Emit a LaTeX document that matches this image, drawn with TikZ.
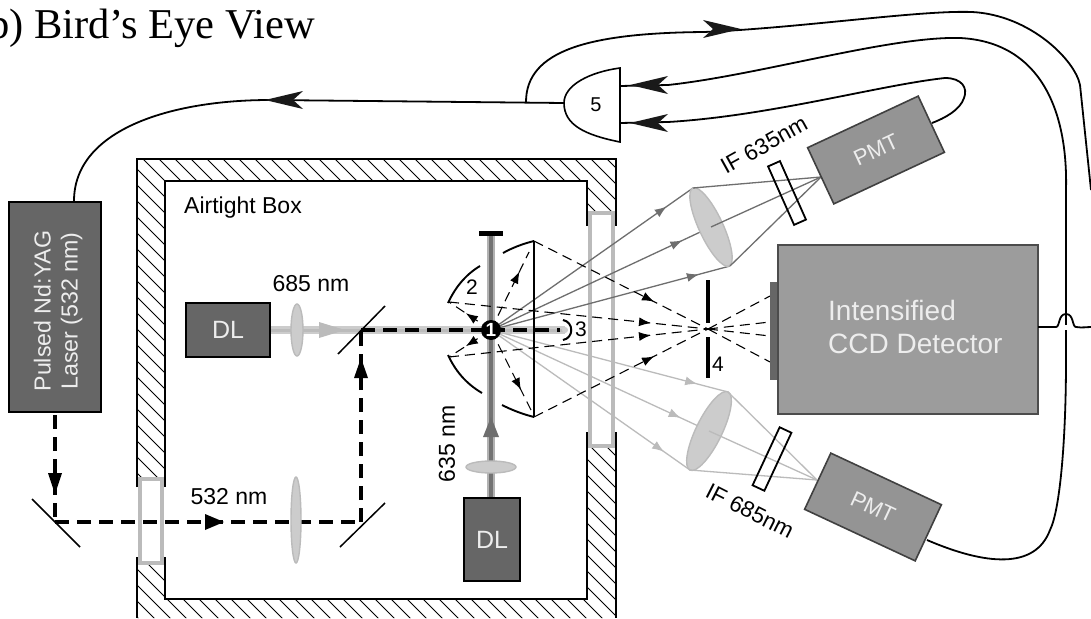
\documentclass[tikz,border=0pt]{standalone}
\usepackage{fontspec}
\setmainfont{Liberation Sans}
\newfontfamily\titlefont{Liberation Serif}
\usetikzlibrary{shapes.geometric,arrows.meta,decorations.markings}
\definecolor{darkbox}{HTML}{666666}
\definecolor{midbox}{HTML}{9C9C9C}
\definecolor{lensgray}{HTML}{CCCCCC}
\definecolor{rayup}{HTML}{6E6E6E}
\definecolor{raylow}{HTML}{BBBBBB}
\definecolor{whitish}{HTML}{EDEDED}
\tikzset{
  x=1pt,y=-1pt,
  lbl/.style={inner sep=0,font=\fontsize{#1}{#1}\selectfont},
  lbl/.default=20,
  darkunit/.style={draw=black,line width=1.6,fill=darkbox,text=whitish,inner sep=0,align=center},
  pmtbox/.style={draw=black!75,line width=1.6,fill=midbox!95!black,text=whitish,inner sep=0,minimum width=122,minimum height=62,font=\fontsize{22}{22}\selectfont},
  ifbox/.style={draw=black,line width=1.8,inner sep=0,minimum width=13,minimum height=64},
  lensnode/.style={ellipse,draw=raylow,line width=1.4,fill=lensgray,inner sep=0},
  wire/.style={draw=black,line width=1.8},
  thickdash/.style={draw=black,line width=4,dash pattern=on 14 off 8},
  thindash/.style={draw=black,line width=1.1,dash pattern=on 10 off 6},
  mirrorline/.style={draw=black,line width=1.5},
  reflector/.style={draw=black,line width=1.9},
  wallline/.style={draw=black,line width=1.5},
  glass/.style={draw=raylow,line width=3.2,fill=white},
  midtip/.style n args={2}{postaction={decorate},decoration={markings,mark=at position #1 with {\arrow{Latex[length=12,width=9,color=#2]}}}},
  wirehead/.pic={\fill[black!90] (0,0)--(-38,-9)--(-28,0)--(-38,9)--cycle;},
}
\begin{document}
\begin{tikzpicture}
\useasboundingbox (0,0) rectangle (1091,618);
\clip (0,0) rectangle (1091,618);
\fill[white] (0,0) rectangle (1091,618);

% ---------- title
\node[anchor=base east,inner sep=0,font=\titlefont\fontsize{42.5}{42.5}\selectfont] (title) at (315,39) {b) Bird’s Eye View};

% ---------- hatched wall
\begin{scope}[even odd rule]
  \clip (137,159) rectangle (616,618) (165,181) rectangle (587,599);
  \foreach \c in {-640,-624,...,640} \draw[line width=1] (\c,0) -- ({\c+700},700);
\end{scope}
\fill[white] (136,487) rectangle (166,557);
\fill[white] (586,226) rectangle (617,432);
\draw[wallline] (137,487) -- (137,159) -- (616,159) -- (616,226);
\draw[wallline] (616,432) -- (616,618);
\draw[wallline] (137,557) -- (137,618);
\draw[wallline] (165,487) -- (165,181) -- (587,181) -- (587,226);
\draw[wallline] (165,557) -- (165,599) -- (587,599) -- (587,432);
\node[glass,minimum width=22,minimum height=84,inner sep=0] (winL) at (151,521) {};
\node[glass,minimum width=23,minimum height=233,inner sep=0] (winR) at (601.5,329.5) {};

% ---------- anchor coordinates
\coordinate (src) at (491,330);
\coordinate (focus) at (708,329);
\coordinate (up1) at (693,188);
\coordinate (up2) at (711,227);
\coordinate (up3) at (730,266);
\coordinate (lo1) at (728,392);
\coordinate (lo2) at (709,431);
\coordinate (lo3) at (690,470);
\coordinate (fp1) at (821,177);
\coordinate (fp2) at (817,480);
\coordinate (rtop) at (534,241);
\coordinate (rbot) at (534,417);
\coordinate (ltop) at (449,302);
\coordinate (lbot) at (449,357);

% ---------- optical beams
\draw[draw=lensgray,line width=8] (270,330) -- (565,330);
\draw[draw=raylow,line width=3] (270,330) -- (565,330);
\draw[draw=black!30,line width=8] (491,233) -- (491,498);
\draw[draw=black!55,line width=3.5] (491,233) -- (491,498);
\draw[draw=black,line width=5] (479,233) -- (503,233);
\fill[raylow] (319,322) -- (345,330) -- (319,338) -- cycle;
\fill[rayup] (491,417) -- (499,437) -- (483,437) -- cycle;

% ---------- thick laser path
\coordinate (laserout) at (55,415);
\coordinate (m1) at (55,522);
\coordinate (m2) at (361,522);
\coordinate (m3) at (361,330);
\draw[thickdash] (laserout) -- (m1);
\draw[thickdash] (m1) -- (m2);
\draw[thickdash] (m2) -- (m3);
\draw[thickdash] (m3) -- (src);
\draw[thickdash] (src) -- (560,330);
\fill[black] (55,494) -- (62,473) -- (48,473) -- cycle;
\fill[black] (224,522) -- (205,514) -- (205,530) -- cycle;
\fill[black] (361,358) -- (368,378) -- (354,378) -- cycle;
\draw[mirrorline] (32,499) -- (80,547);
\draw[mirrorline] (340,547) -- (385,503);
\draw[mirrorline] (338,354) -- (385,306);

% ---------- fluorescence rays
\foreach \t in {up1,up2,up3}
  \draw[draw=rayup,line width=1.3,midtip={0.87}{rayup}] (src) -- (\t);
\foreach \t in {lo1,lo2,lo3}
  \draw[draw=raylow,line width=1.3,midtip={0.87}{raylow}] (src) -- (\t);

% ---------- reflectors and scattered light
\draw[mirrorline,line width=1.3] (rtop) -- (rbot);
\draw[reflector] (rtop) .. controls (522,244) and (512,248) .. (503,253);
\draw[reflector] (rbot) .. controls (522,414) and (512,410) .. (502,405);
\draw[reflector] (480,266) .. controls (465,275) and (455,288) .. (448,303);
\draw[reflector] (448,355) .. controls (455,370) and (465,383) .. (482,393);
\coordinate (in1) at (529,252);
\coordinate (in2) at (531,410);
\draw[thindash,midtip={0.75}{black}] (src) -- (in1);
\draw[thindash,midtip={0.75}{black}] (src) -- (in2);
\draw[thindash,midtip={0.6}{black}] (src) -- (ltop);
\draw[thindash,midtip={0.6}{black}] (src) -- (lbot);
\draw[thindash,midtip={0.69}{black}] (rtop) -- (focus);
\draw[thindash,midtip={0.69}{black}] (rbot) -- (focus);
\draw[thindash,midtip={0.78}{black}] (ltop) -- (focus);
\draw[thindash,midtip={0.78}{black}] (lbot) -- (focus);
\coordinate (c1) at (770,296);
\coordinate (c2) at (770,322);
\coordinate (c3) at (770,336);
\coordinate (c4) at (770,362);
\foreach \t in {c1,c2,c3,c4} \draw[thindash] (focus) -- (\t);
\draw[reflector,line width=2] (563,320) .. controls (574,322) and (574,338) .. (563,340);
\fill[raylow!70!white] (565,330) circle (3);

% ---------- slit 4
\draw[draw=black,line width=4] (708,280) -- (708,323);
\draw[draw=black,line width=4] (708,337) -- (708,378);

% ---------- sample
\node[circle,fill=black,minimum size=20,inner sep=0,text=white,font=\bfseries\fontsize{19}{19}\selectfont] (sample) at (src) {1};

% ---------- lenses
\node[lensnode,minimum width=12,minimum height=52] (l685) at (297,330) {};
\node[lensnode,minimum width=10,minimum height=86] (l532) at (296,520) {};
\node[lensnode,minimum width=50,minimum height=12] (l635) at (491,467) {};
\node[lensnode,minimum width=24,minimum height=86,rotate=25] (lensU) at (711,227) {};
\node[lensnode,minimum width=26,minimum height=87,rotate=-26] (lensD) at (709,431) {};

% ---------- rays to PMTs
\foreach \t in {up1,up2,up3} \draw[draw=rayup,line width=1.3] (\t) -- (fp1);
\foreach \t in {lo1,lo2,lo3} \draw[draw=raylow,line width=1.3] (\t) -- (fp2);

% ---------- interference filters
\node[ifbox,rotate=24] (ifU) at (787,193) {};
\node[ifbox,rotate=-25] (ifD) at (772,459) {};

% ---------- units
\node[darkunit,minimum width=92,minimum height=210] (laser) at (55,307) {};
\node[rotate=90,text=whitish,align=center,font=\fontsize{23.2}{27}\selectfont,inner sep=0] (lasertxt) at (58,311) {Pulsed Nd:YAG\\Laser (532 nm)};
\node[darkunit,minimum width=84,minimum height=54,font=\fontsize{25}{25}\selectfont] (dlA) at (228,330) {DL};
\node[darkunit,minimum width=56,minimum height=83,font=\fontsize{25}{25}\selectfont] (dlB) at (492,539.5) {DL};
\fill[black!60] (770,282) rectangle (778,380);
\node[draw=black!70,line width=1.6,fill=midbox,minimum width=260,minimum height=169,inner sep=0] (ccd) at (908,329.5) {};
\node[anchor=base west,text=whitish,lbl=28] (ccdA) at (828,320) {Intensified};
\node[anchor=base west,text=whitish,lbl=28] (ccdB) at (828,353) {CCD Detector};
\node[pmtbox,rotate=25] (pmtU) at (876,150) {PMT};
\node[pmtbox,rotate=-25] (pmtD) at (873,507) {PMT};

% ---------- gate
\draw[draw=black,line width=1.6,fill=white] (620,68) -- (620,142) .. controls (585,135) and (564,125) .. (564,103) .. controls (564,85) and (590,72) .. (620,68) -- cycle;
\node[lbl=20] (gate) at (596,105) {5};

% ---------- wires
\coordinate (laserTop) at (74,201);
\coordinate (gOut) at (564,103);
\coordinate (gInA) at (620,86);
\coordinate (gInB) at (620,123);
\coordinate (tap) at (526,102);
\coordinate (edgeA) at (1091,190);
\coordinate (edgeB) at (1091,327);
\coordinate (pU) at (932,123);
\coordinate (pD) at (927,540);
\coordinate (ccdR) at (1038,327);
\draw[wire] (laserTop) .. controls (74,130) and (170,100) .. (270,100) -- (gOut);
\draw[wire] (tap) .. controls (526,50) and (590,33) .. (704,32) .. controls (800,28) and (920,10) .. (972,12) .. controls (1030,15) and (1075,60) .. (1080,85) -- (edgeA);
\draw[wire] (gInA) -- (668,85) .. controls (760,75) and (890,36) .. (960,38) .. controls (1040,42) and (1068,110) .. (1066,190) -- (1066,360) .. controls (1066,440) and (1060,510) .. (1050,530) .. controls (1035,570) and (985,565) .. (pD);
\draw[wire] (gInB) -- (668,122) .. controls (770,116) and (880,85) .. (945,78) .. controls (962,78) and (968,88) .. (964,98) .. controls (960,110) and (945,118) .. (pU);
\draw[draw=white,line width=5] (1058,327) -- (1074,327);
\draw[wire] (ccdR) -- (1056,327) .. controls (1060,327) and (1058,314) .. (1066,314) .. controls (1074,314) and (1072,327) .. (1076,327) .. controls (1082,328) and (1087,327) .. (edgeB);
\pic[rotate=180] at (265,100) {wirehead};
\pic at (741,29) {wirehead};
\pic[rotate=180] at (630,85) {wirehead};
\pic[rotate=180] at (630,123) {wirehead};

% ---------- labels
\node[lbl=23] (tBox) at (243,208) {Airtight Box};
\node[lbl=23] (t685) at (311,284) {685 nm};
\node[lbl=23] (t532) at (229,497) {532 nm};
\node[lbl=23,rotate=90] (t635) at (447,444) {635 nm};
\node[lbl=21] (t2) at (472,287) {2};
\node[lbl=21] (t3) at (581,329) {3};
\node[lbl=21] (t4) at (718,364) {4};
\node[lbl=22.5,rotate=29] (tIFU) at (764,145) {IF 635nm};
\node[lbl=22.5,rotate=-27] (tIFD) at (750,511) {IF 685nm};
\end{tikzpicture}
\end{document}
